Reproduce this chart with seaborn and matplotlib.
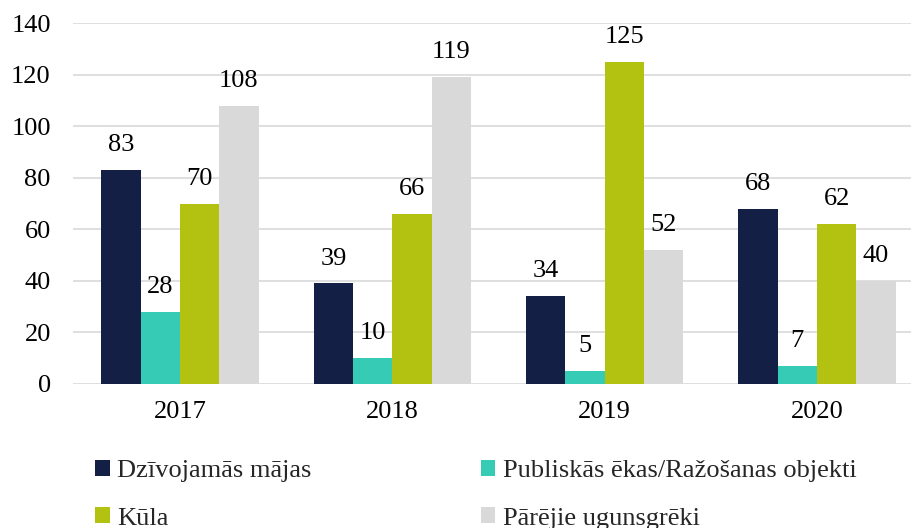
import matplotlib
matplotlib.use("Agg")
import matplotlib.pyplot as plt
import matplotlib.patches as mpatches
import seaborn as sns
import pandas as pd

years = ["2017", "2018", "2019", "2020"]
series = ["Dzīvojamās mājas", "Publiskās ēkas/Ražošanas objekti", "Kūla", "Pārējie ugunsgrēki"]
dzivojamas = [83, 39, 34, 68]
publiskas = [28, 10, 5, 7]
kula = [70, 66, 125, 62]
parejie = [108, 119, 52, 40]
colors = ["#131f45", "#36cbb5", "#b3c211", "#d9d9d9"]

values = [dzivojamas, publiskas, kula, parejie]
df = pd.DataFrame(
    [(y, s, v) for s, vals in zip(series, values) for y, v in zip(years, vals)],
    columns=["Gads", "Kategorija", "Skaits"],
)

sns.set_theme(style="white")
plt.rcParams["font.family"] = ["Liberation Serif", "DejaVu Serif"]

FS = 19

fig = plt.figure(figsize=(9.11, 5.28), dpi=100)
ax = fig.add_axes([73 / 911, 144 / 528, 1 - 73 / 911, (384 - 23) / 528])

sns.barplot(
    data=df, x="Gads", y="Skaits", hue="Kategorija",
    order=years, hue_order=series, palette=colors,
    width=0.74, gap=0, saturation=1, ax=ax, legend=False,
    linewidth=0, edgecolor="none",
)

for cont in ax.containers:
    ax.bar_label(cont, fmt="%d", padding=10, fontsize=FS, color="#000000")

ax.set_ylim(0, 140)
ax.set_yticks(range(0, 141, 20))
ax.set_xlim(-0.504, 3.443)
ax.yaxis.grid(True, color="#d9d9d9", linewidth=1.2)
ax.set_axisbelow(True)
for sp in ax.spines.values():
    sp.set_visible(False)
ax.tick_params(axis="y", length=0, pad=16, labelsize=FS, labelcolor="#000000")
ax.tick_params(axis="x", length=0, pad=12, labelsize=FS, labelcolor="#000000")
ax.set_xlabel("")
ax.set_ylabel("")

# legend filled row by row: two entries per row
handles = [mpatches.Patch(facecolor=c, edgecolor="none", label=s) for c, s in zip(colors, series)]
order = [0, 2, 1, 3]
fig.legend(
    handles=[handles[i] for i in order], ncol=2, loc="upper left",
    bbox_to_anchor=(95 / 911, 1 - 460 / 528),
    frameon=False, fontsize=FS,
    handlelength=0.55, handleheight=0.55, handletextpad=0.3,
    columnspacing=6.4, labelspacing=0.95, borderpad=0, borderaxespad=0,
)

fig.savefig("out.png", dpi=100)
